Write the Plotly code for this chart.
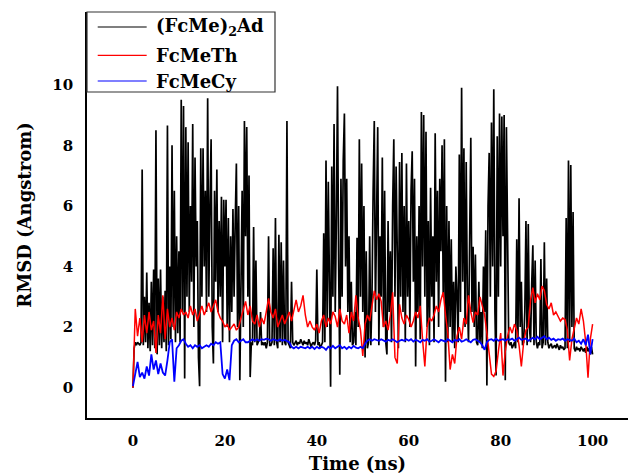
#RMSD of the three guests over the 100 ns run, redrawn with plotly
#%%
import numpy as np
import plotly.graph_objects as go

#%%
#values (Angstrom)
#(FcMe)2Ad is spiky so it is kept every 0.25 ns, 20 frames per row = 5 ns
rmsd_fcme2ad = [
    0, 1.3, 1.5, 1.4, 1.5, 1.45, 1.4, 1.5, 7.2, 1.4, 3.0, 1.5, 3.8, 1.3, 2.8, 1.2, 3.5, 1.4, 3.9, 1.3,
    8.5, 1.1, 3.6, 1.4, 3.9, 1.3, 3.0, 1.5, 3.2, 1.2, 8.65, 1.4, 4.0, 1.6, 8.0, 2.0, 6.5, 1.5, 5.0, 1.8,
    4.5, 1.5, 9.5, 2.5, 9.3, 0.3, 8.6, 3.0, 8.1, 2.5, 6.0, 3.5, 8.7, 2.0, 7.6, 4.0, 5.5, 1.0, 0.05, 7.9,
    3.0, 7.9, 4.0, 6.5, 2.5, 9.55, 3.0, 6.0, 8.2, 2.0, 0.8, 6.5, 3.5, 7.2, 2.5, 5.5, 3.0, 6.3, 1.5, 6.2,
    4.0, 6.2, 2.0, 5.6, 1.5, 5.0, 2.5, 5.9, 3.0, 5.5, 7.4, 2.0, 6.0, 0.25, 4.5, 6.5, 2.0, 8.8, 5.0, 8.6,
    3.0, 7.0, 0.35, 1.5, 1.4, 5.3, 1.5, 4.2, 1.4, 1.5, 1.6, 2.5, 1.4, 1.5, 1.4, 1.5, 1.3, 1.5, 5.0, 1.4,
    1.4, 1.5, 4.6, 1.4, 5.6, 1.5, 1.3, 5.05, 1.5, 4.8, 1.4, 4.2, 1.5, 1.4, 8.8, 1.5, 1.4, 1.3, 3.5, 1.5,
    1.4, 1.5, 1.55, 1.4, 1.5, 1.45, 1.6, 1.5, 1.4, 1.55, 1.45, 1.5, 1.4, 1.6, 1.5, 1.35, 1.45, 1.5, 1.4, 1.55,
    3.9, 1.4, 1.5, 1.3, 1.4, 1.5, 5.1, 1.5, 7.5, 2.0, 6.8, 4.0, 0.03, 7.3, 3.0, 8.7, 2.5, 5.5, 9.95, 4.0,
    0.43, 6.9, 3.0, 7.5, 9.05, 4.0, 6.9, 2.5, 5.0, 1.5, 3.5, 1.4, 1.5, 2.5, 1.4, 4.95, 2.0, 8.2, 3.0, 7.4,
    2.5, 6.0, 1.0, 4.5, 1.3, 1.5, 5.0, 1.4, 3.0, 6.5, 8.8, 2.5, 7.0, 8.6, 1.4, 5.0, 3.0, 7.6, 2.0, 6.5,
    1.5, 1.1, 5.5, 2.5, 4.5, 1.5, 6.0, 8.2, 3.0, 7.3, 4.5, 1.3, 7.45, 3.0, 7.75, 2.5, 6.0, 1.5, 7.4, 3.0,
    5.5, 2.0, 6.5, 7.8, 3.5, 6.9, 0.7, 5.0, 2.5, 6.0, 1.6, 9.1, 4.0, 9.0, 3.0, 8.45, 2.0, 5.5, 1.4, 6.6,
    3.0, 5.0, 1.5, 8.4, 3.5, 6.5, 2.0, 6.9, 4.5, 8.0, 3.0, 8.2, 0.2, 6.0, 1.5, 5.5, 2.0, 4.9, 1.5, 3.5,
    1.3, 4.0, 3.0, 1.5, 7.7, 2.5, 9.9, 3.5, 7.9, 2.0, 7.45, 3.0, 1.5, 5.5, 8.25, 2.5, 4.65, 2.0, 4.4, 1.5,
    1.4, 3.5, 1.5, 2.5, 1.3, 4.0, 2.5, 5.2, 0.07, 6.0, 7.75, 3.0, 8.75, 4.0, 9.85, 2.5, 0.4, 8.3, 3.0, 9.05,
    4.0, 8.95, 5.0, 9.0, 0.25, 8.6, 4.65, 1.5, 1.4, 1.5, 1.3, 1.4, 1.5, 1.3, 4.9, 1.5, 6.25, 2.0, 3.5, 1.4,
    1.5, 2.5, 5.5, 1.4, 5.4, 2.0, 1.5, 3.4, 4.7, 1.4, 4.2, 1.5, 1.3, 1.5, 1.4, 4.25, 1.3, 1.5, 4.8, 1.4,
    3.6, 1.5, 1.3, 1.4, 1.45, 1.3, 1.35, 1.4, 1.3, 1.45, 1.35, 1.25, 1.4, 1.3, 1.35, 1.25, 1.3, 5.6, 1.3, 7.5,
    1.5, 7.35, 2.0, 5.8, 1.3, 1.2, 1.35, 1.25, 1.3, 1.2, 1.35, 1.25, 1.2, 1.3, 1.15, 1.35, 1.2, 1.3, 1.1, 1.35,
    1.1,
]

#the other two every 0.5 ns, 10 frames per row = 5 ns
rmsd_fcmeth = [
    0, 2.6, 1.7, 2.3, 1.5, 2.4, 1.8, 2.5, 1.9, 2.2,
    1.15, 2.4, 1.8, 3.05, 1.6, 2.6, 2.0, 2.3, 1.9, 2.5,
    2.3, 2.6, 2.4, 2.5, 2.3, 2.7, 2.4, 2.6, 2.2, 2.5,
    2.7, 2.4, 2.6, 2.8, 2.5, 2.7, 2.9, 2.5, 2.3, 2.2,
    2.0, 2.1, 1.9, 2.0, 2.1, 1.9, 2.0, 2.3, 2.6, 2.85,
    2.4, 2.7, 2.2, 2.1, 2.4, 2.0, 2.3, 2.1, 2.5, 2.95,
    2.5, 2.3, 2.6, 2.0, 2.2, 2.4, 2.1, 2.3, 2.5, 2.2,
    2.6, 2.9, 2.5, 2.7, 3.05, 2.4, 2.0, 2.2, 2.0, 1.9,
    2.1, 1.8, 2.2, 2.4, 2.0, 2.3, 2.1, 2.5, 2.35, 2.0,
    2.6, 2.2, 2.1, 2.4, 1.8, 2.5, 2.2, 3.05, 2.3, 1.9,
    1.05, 2.1, 2.4, 2.2, 2.7, 3.2, 2.9, 3.1, 2.85, 2.0,
    2.2, 1.9, 2.4, 3.15, 1.0, 0.8, 2.75, 2.3, 2.1, 2.4,
    2.25, 2.0, 2.2, 2.5, 2.3, 2.7, 1.6, 0.7, 2.0, 2.3,
    2.2, 2.4, 2.7, 2.5, 2.9, 3.15, 2.4, 1.8, 0.6, 1.1,
    0.8, 1.7, 2.0, 1.6, 2.3, 2.1, 3.05, 2.5, 2.15, 2.5,
    2.4, 3.0, 2.7, 2.4, 1.8, 1.2, 0.45, 0.37, 0.55, 1.2,
    1.8, 0.4, 1.2, 1.7, 2.0, 1.8, 2.1, 1.9, 1.4, 0.7,
    1.5, 1.9, 2.0, 2.9, 3.3, 2.8, 3.1, 2.9, 3.35, 3.2,
    2.75, 2.6, 2.8, 2.4, 2.5, 2.35, 2.2, 2.3, 2.25, 1.9,
    0.9, 1.6, 1.97, 2.3, 2.1, 2.6, 2.2, 1.5, 0.33, 1.6,
    2.1,
]

rmsd_fcmecy = [
    0.05, 0.4, 0.85, 0.35, 0.5, 0.3, 0.7, 0.4, 1.1, 0.6,
    0.9, 0.45, 0.8, 0.5, 0.4, 0.9, 1.5, 1.6, 0.2, 1.3,
    1.4, 1.55, 1.6, 1.45, 1.35, 1.4, 1.3, 1.4, 1.35, 1.4,
    1.3, 1.35, 1.4, 1.35, 1.45, 1.4, 1.5, 1.45, 1.5, 0.45,
    0.3, 0.6, 0.25, 1.4, 1.55, 1.6, 1.5, 1.55, 1.6, 1.5,
    1.5, 1.55, 1.6, 1.55, 1.6, 1.55, 1.6, 1.58, 1.62, 1.6,
    1.55, 1.6, 1.58, 1.55, 1.6, 1.55, 1.58, 1.55, 1.5, 1.35,
    1.3, 1.35, 1.3, 1.35, 1.32, 1.3, 1.35, 1.3, 1.35, 1.28,
    1.35, 1.3, 1.35, 1.32, 1.25, 1.35, 1.3, 1.38, 1.3, 1.35,
    1.4, 1.3, 1.35, 1.28, 1.35, 1.3, 1.38, 1.32, 1.3, 1.35,
    1.3, 1.45, 1.55, 1.6, 1.55, 1.6, 1.58, 1.55, 1.6, 1.55,
    1.52, 1.58, 1.55, 1.6, 1.55, 1.5, 1.55, 1.58, 1.55, 1.6,
    1.55, 1.6, 1.52, 1.58, 1.55, 1.5, 1.58, 1.55, 1.6, 1.52,
    1.55, 1.6, 1.55, 1.5, 1.58, 1.55, 1.52, 1.6, 1.55, 1.5,
    1.58, 1.55, 1.6, 1.52, 1.55, 1.6, 1.55, 1.5, 1.58, 1.6,
    1.55, 1.5, 1.4, 1.25, 1.5, 1.58, 1.6, 1.55, 1.62, 1.55,
    1.58, 1.6, 1.55, 1.6, 1.58, 1.62, 1.55, 1.6, 1.65, 1.58,
    1.6, 1.62, 1.55, 1.6, 1.65, 1.6, 1.68, 1.6, 1.65, 1.7,
    1.6, 1.65, 1.58, 1.62, 1.55, 1.6, 1.58, 1.62, 1.55, 1.6,
    1.58, 1.55, 1.62, 1.5, 1.55, 1.45, 1.6, 1.4, 1.75, 1.1,
    1.6,
]

#frame spacing in ns for each series
frame_step = [0.25, 0.5, 0.5]

series_names = ['(FcMe)<sub>2</sub>Ad', 'FcMeTh', 'FcMeCy']
series_values = [rmsd_fcme2ad, rmsd_fcmeth, rmsd_fcmecy]
series_colours = ['#000000', '#ff0000', '#0000ff']
series_widths = [1.7, 1.5, 1.8]

x_ticks = [0, 20, 40, 60, 80, 100]
y_ticks = [0, 2, 4, 6, 8, 10]

FONT = 'DejaVu Serif'

#%%
fig = go.Figure()
for name, vals, step, col, w in zip(series_names, series_values, frame_step, series_colours, series_widths):
    t = np.arange(len(vals)) * step
    fig.add_trace(go.Scatter(x=t, y=vals, mode='lines', name=name,
                             line=dict(color=col, width=w), showlegend=False))

#legend drawn by hand so the line samples are as long as in the original
leg_rows = [0.963, 0.893, 0.830]
fig.add_shape(type='rect', xref='paper', yref='paper', x0=0, x1=0.3475, y0=0.803, y1=1,
              line=dict(color='#333333', width=1.2), fillcolor='white', layer='above')
for name, col, yy in zip(series_names, series_colours, leg_rows):
    fig.add_shape(type='line', xref='paper', yref='paper', x0=0.0198, x1=0.1103, y0=yy, y1=yy,
                  line=dict(color=col, width=1.2), layer='above')
    fig.add_annotation(xref='paper', yref='paper', x=0.1238, y=yy, text='<b>' + name + '</b>',
                       showarrow=False, xanchor='left', yanchor='middle',
                       font=dict(family=FONT, size=18, color='black'))

fig.update_layout(
    width=629, height=474,
    margin=dict(l=87, r=1, t=12, b=56),
    plot_bgcolor='white', paper_bgcolor='white',
    font=dict(family=FONT, color='black', size=15, weight='bold'),
)
fig.update_xaxes(range=[-10, 107.7], tickvals=x_ticks, showgrid=False, zeroline=False,
                 showline=True, linecolor='black', linewidth=1.6, ticks='', automargin=False,
                 ticklabelstandoff=8, tickfont=dict(size=15),
                 title=dict(text='<b>Time (ns)</b>', font=dict(size=18), standoff=10))
fig.update_yaxes(range=[-1, 12.4], tickvals=y_ticks, showgrid=False, zeroline=False,
                 showline=True, linecolor='black', linewidth=1.6, ticks='', automargin=False,
                 ticklabelstandoff=9, tickfont=dict(size=15),
                 title=dict(text='<b>RMSD (Angstrom)</b>', font=dict(size=18), standoff=16))

#the page's default body margin pushes the figure off the window, drop it
fig.write_html('out.html', config={'displayModeBar': False},
               post_script="document.body.style.margin='0';")
